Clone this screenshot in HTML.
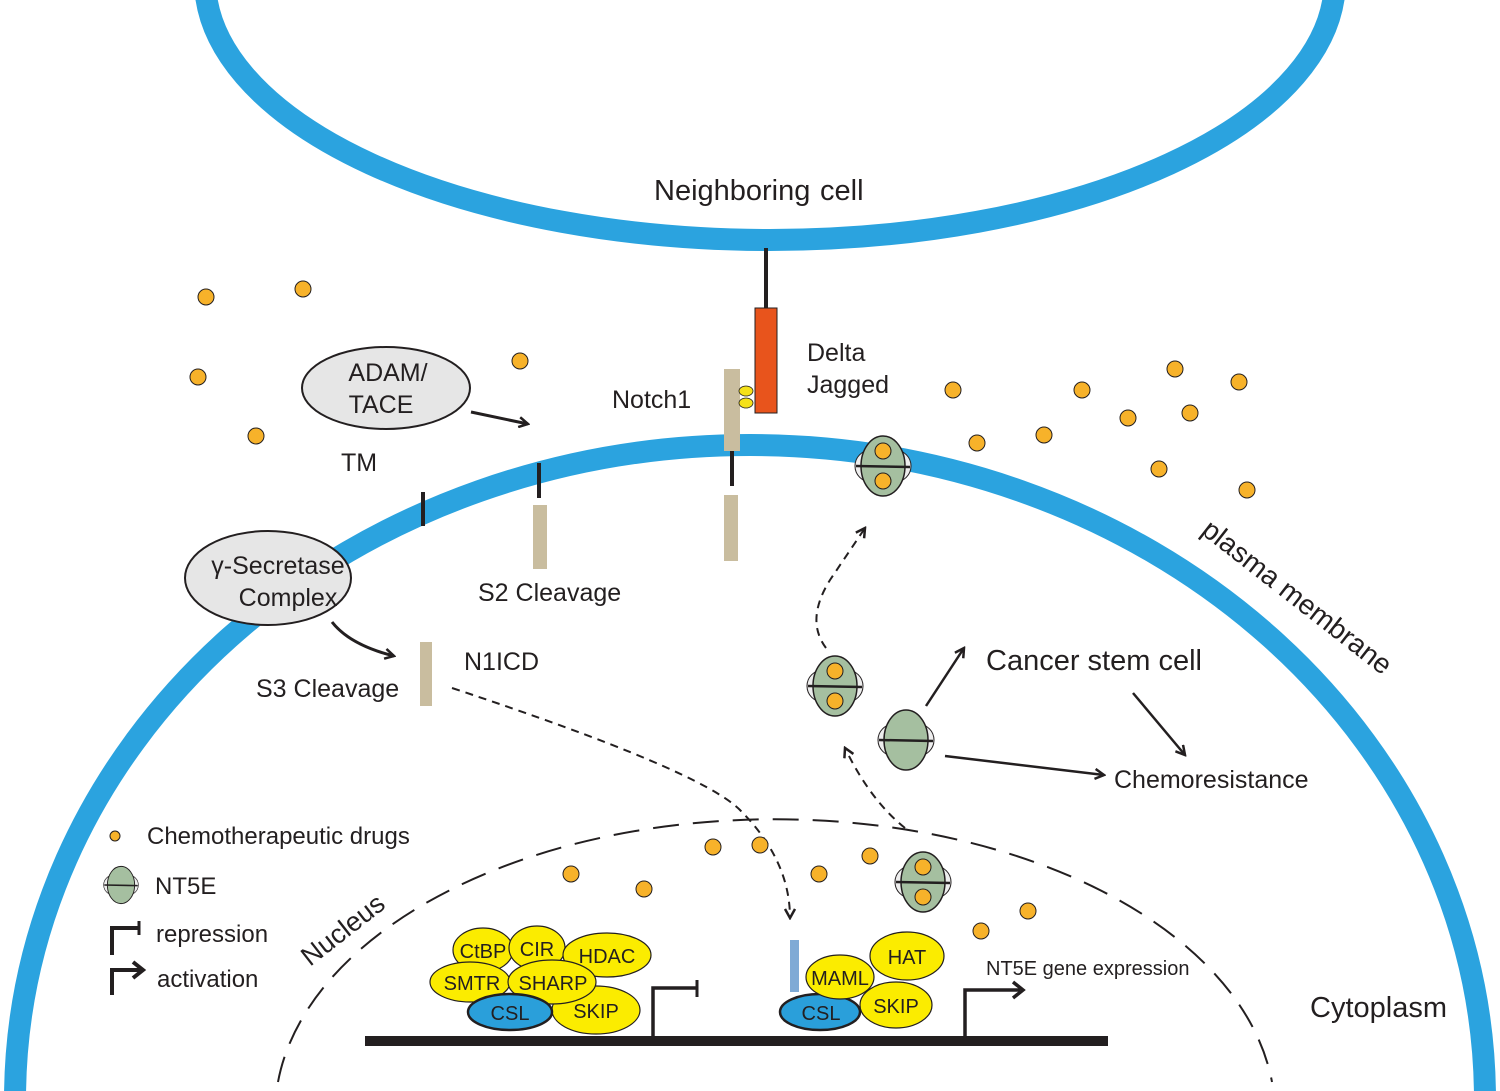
<!DOCTYPE html>
<html><head><meta charset="utf-8"><style>
html,body{margin:0;padding:0;background:#fff}
svg{display:block}
text{font-family:"Liberation Sans",sans-serif;fill:#231f20}
</style></head><body>
<svg width="1500" height="1091" viewBox="0 0 1500 1091" xmlns="http://www.w3.org/2000/svg">
<defs>
<marker id="ah" markerWidth="12" markerHeight="12" refX="10" refY="6" orient="auto" markerUnits="userSpaceOnUse" viewBox="0 0 12 12">
<path d="M1,1 L10,6 L1,11" fill="none" stroke="#231f20" stroke-width="2.5"/>
</marker>
<g id="nt">
<ellipse cx="-12" cy="0" rx="16" ry="16" fill="#eee" stroke="#231f20" stroke-width="1"/>
<ellipse cx="12" cy="0" rx="16" ry="16" fill="#eee" stroke="#231f20" stroke-width="1"/>
<ellipse cx="0" cy="0" rx="22" ry="30" fill="#a5bfa0" stroke="#231f20" stroke-width="1.5"/>
<line x1="-27" y1="0" x2="27" y2="1" stroke="#231f20" stroke-width="2.5"/>
</g>
<g id="ntd">
<use href="#nt"/>
<circle cx="0" cy="-15" r="8" fill="#f7b22a" stroke="#231f20" stroke-width="1"/>
<circle cx="0" cy="15" r="8" fill="#f7b22a" stroke="#231f20" stroke-width="1"/>
</g>
</defs>

<path d="M205,-20 A565,260 0 0 0 1335,-20" fill="none" stroke="#2ba3df" stroke-width="22"/>
<path d="M15,1100 A735,655 0 0 1 1485,1100" fill="none" stroke="#2ba3df" stroke-width="22"/>
<path d="M278,1082 A500,295 0 0 1 1272,1082" fill="none" stroke="#231f20" stroke-width="2" stroke-dasharray="26,14"/>

<text x="654" y="200" font-size="29">Neighboring</text>
<text x="820" y="200" font-size="29">cell</text>

<line x1="766" y1="248" x2="766" y2="308" stroke="#231f20" stroke-width="4"/>
<rect x="755" y="308" width="22" height="105" fill="#e8541c" stroke="#231f20" stroke-width="1"/>
<text x="807" y="361" font-size="25">Delta</text>
<text x="807" y="393" font-size="25">Jagged</text>
<rect x="724" y="369" width="16" height="82" fill="#c9bd9f"/>
<ellipse cx="746" cy="391" rx="7" ry="5" fill="#f5e11a" stroke="#231f20" stroke-width="0.8"/>
<ellipse cx="746" cy="403" rx="7" ry="5" fill="#f5e11a" stroke="#231f20" stroke-width="0.8"/>
<line x1="732" y1="451" x2="732" y2="486" stroke="#231f20" stroke-width="4"/>
<rect x="724" y="495" width="14" height="66" fill="#c9bd9f"/>
<text x="612" y="408" font-size="25">Notch1</text>

<ellipse cx="386" cy="388" rx="84" ry="41" fill="#e6e6e6" stroke="#231f20" stroke-width="2"/>
<text x="388" y="381" font-size="25" text-anchor="middle">ADAM/</text>
<text x="381" y="413" font-size="25" text-anchor="middle">TACE</text>
<line x1="471" y1="412" x2="528" y2="424" stroke="#231f20" stroke-width="3" marker-end="url(#ah)"/>
<text x="341" y="471" font-size="25">TM</text>
<line x1="423" y1="492" x2="423" y2="526" stroke="#231f20" stroke-width="4"/>
<line x1="539" y1="463" x2="539" y2="498" stroke="#231f20" stroke-width="4"/>
<rect x="533" y="505" width="14" height="64" fill="#c9bd9f"/>
<text x="478" y="601" font-size="25">S2 Cleavage</text>

<ellipse cx="268" cy="578" rx="83" ry="47" fill="#e6e6e6" stroke="#231f20" stroke-width="2"/>
<text x="278" y="574" font-size="25" text-anchor="middle">γ-Secretase</text>
<text x="288" y="606" font-size="25" text-anchor="middle">Complex</text>
<path d="M332,622 Q350,645 394,656" fill="none" stroke="#231f20" stroke-width="3" marker-end="url(#ah)"/>
<rect x="420" y="642" width="12" height="64" fill="#c9bd9f"/>
<text x="464" y="670" font-size="25">N1ICD</text>
<text x="256" y="697" font-size="25">S3 Cleavage</text>
<path d="M452,688 Q700,770 740,810 Q790,860 790,918" fill="none" stroke="#231f20" stroke-width="2" stroke-dasharray="8,6" marker-end="url(#ah)"/>

<path d="M826,648 Q805,620 830,580 L865,528" fill="none" stroke="#231f20" stroke-width="2" stroke-dasharray="8,6" marker-end="url(#ah)"/>
<path d="M905,828 Q870,800 845,748" fill="none" stroke="#231f20" stroke-width="2" stroke-dasharray="8,6" marker-end="url(#ah)"/>
<line x1="926" y1="706" x2="964" y2="648" stroke="#231f20" stroke-width="2.5" marker-end="url(#ah)"/>
<line x1="945" y1="756" x2="1104" y2="775" stroke="#231f20" stroke-width="2.5" marker-end="url(#ah)"/>
<line x1="1133" y1="693" x2="1185" y2="755" stroke="#231f20" stroke-width="2.5" marker-end="url(#ah)"/>
<text x="986" y="670" font-size="29">Cancer stem cell</text>
<text x="1114" y="788" font-size="25">Chemoresistance</text>

<use href="#ntd" transform="translate(883,466)"/>
<use href="#ntd" transform="translate(835,686)"/>
<use href="#nt" transform="translate(906,740)"/>
<use href="#ntd" transform="translate(923,882)"/>

<text x="0" y="0" font-size="28" transform="translate(1200,533) rotate(38)">plasma membrane</text>
<text x="0" y="0" font-size="27" transform="translate(310,967) rotate(-38)">Nucleus</text>
<text x="1310" y="1017" font-size="29">Cytoplasm</text>

<g fill="#f7b22a" stroke="#231f20" stroke-width="1">
<circle cx="206" cy="297" r="8"/><circle cx="303" cy="289" r="8"/><circle cx="520" cy="361" r="8"/>
<circle cx="198" cy="377" r="8"/><circle cx="256" cy="436" r="8"/><circle cx="953" cy="390" r="8"/>
<circle cx="1082" cy="390" r="8"/><circle cx="1175" cy="369" r="8"/><circle cx="1239" cy="382" r="8"/>
<circle cx="1128" cy="418" r="8"/><circle cx="1190" cy="413" r="8"/><circle cx="977" cy="443" r="8"/>
<circle cx="1044" cy="435" r="8"/><circle cx="1159" cy="469" r="8"/><circle cx="1247" cy="490" r="8"/>
<circle cx="713" cy="847" r="8"/><circle cx="760" cy="845" r="8"/><circle cx="819" cy="874" r="8"/>
<circle cx="870" cy="856" r="8"/><circle cx="571" cy="874" r="8"/><circle cx="644" cy="889" r="8"/>
<circle cx="981" cy="931" r="8"/><circle cx="1028" cy="911" r="8"/>
<circle cx="115" cy="836" r="5"/>
</g>

<text x="147" y="844" font-size="24">Chemotherapeutic drugs</text>
<use href="#nt" transform="translate(121,885) scale(0.62)"/>
<text x="155" y="894" font-size="24">NT5E</text>
<path d="M112,955 V928 H138" fill="none" stroke="#231f20" stroke-width="4"/>
<line x1="139" y1="921" x2="139" y2="935" stroke="#231f20" stroke-width="3"/>
<text x="156" y="942" font-size="24">repression</text>
<path d="M112,995 V970 H140" fill="none" stroke="#231f20" stroke-width="4"/>
<path d="M133,962 L143,970 L133,978" fill="none" stroke="#231f20" stroke-width="4"/>
<text x="157" y="987" font-size="24">activation</text>

<line x1="365" y1="1041" x2="1108" y2="1041" stroke="#231f20" stroke-width="10"/>
<path d="M653,1040 V988 H697" fill="none" stroke="#231f20" stroke-width="3.5"/>
<line x1="697" y1="980" x2="697" y2="997" stroke="#231f20" stroke-width="3"/>
<path d="M965,1040 V990 H1020" fill="none" stroke="#231f20" stroke-width="3.5"/>
<path d="M1013,982 L1023,990 L1013,998" fill="none" stroke="#231f20" stroke-width="3.5"/>
<text x="986" y="975" font-size="20">NT5E gene expression</text>

<g stroke="#231f20" stroke-width="1.2">
<ellipse cx="483" cy="950" rx="30" ry="22" fill="#fbec00"/>
<ellipse cx="537" cy="948" rx="28" ry="22" fill="#fbec00"/>
<ellipse cx="607" cy="955" rx="44" ry="22" fill="#fbec00"/>
<ellipse cx="470" cy="982" rx="40" ry="20" fill="#fbec00"/>
<ellipse cx="596" cy="1010" rx="44" ry="24" fill="#fbec00"/>
<ellipse cx="552" cy="982" rx="44" ry="22" fill="#fbec00"/>
<ellipse cx="510" cy="1012" rx="42" ry="18" fill="#2a9fda" stroke-width="2.5"/>
<ellipse cx="907" cy="956" rx="37" ry="24" fill="#fbec00"/>
<ellipse cx="896" cy="1005" rx="36" ry="23" fill="#fbec00"/>
<ellipse cx="820" cy="1012" rx="40" ry="18" fill="#2a9fda" stroke-width="2.5"/>
<ellipse cx="840" cy="977" rx="34" ry="22" fill="#fbec00"/>
</g>
<rect x="790" y="940" width="9" height="52" fill="#7faad5"/>
<g font-size="20" text-anchor="middle">
<text x="483" y="958">CtBP</text><text x="537" y="956">CIR</text><text x="607" y="963">HDAC</text>
<text x="472" y="990">SMTR</text><text x="553" y="990">SHARP</text><text x="510" y="1020">CSL</text>
<text x="596" y="1018">SKIP</text><text x="907" y="964">HAT</text><text x="840" y="985">MAML</text>
<text x="896" y="1013">SKIP</text><text x="821" y="1020">CSL</text>
</g>
</svg>
</body></html>
